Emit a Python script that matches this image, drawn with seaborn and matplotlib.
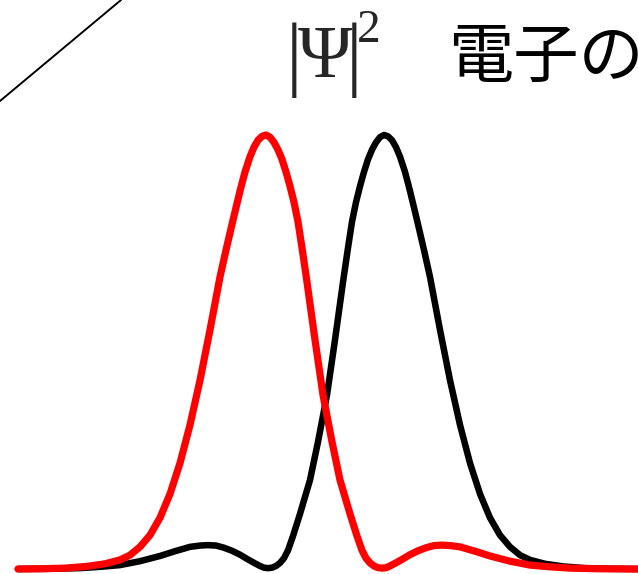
import numpy as np
import pandas as pd
import matplotlib
matplotlib.use('Agg')
import matplotlib.pyplot as plt
from matplotlib.lines import Line2D
import seaborn as sns

# Curve values (x position, height relative to peak)
black_x = [18, 50, 80, 100, 120, 140, 160, 175, 190, 200, 208, 216, 224, 232, 240, 248,
           255, 260, 264, 268, 272, 276, 280, 284, 288, 293, 300, 310, 318, 327, 335, 343,
           348, 352, 356, 360, 364, 368, 372, 376, 380, 384, 388, 392, 396, 400, 405, 410,
           417, 424, 430, 440, 450, 460, 470, 480, 490, 500, 510, 520, 530, 545, 563, 585,
           610, 640, 660]
black_h = [0.0, 0.0005, 0.002, 0.005, 0.009, 0.018, 0.030, 0.041, 0.051, 0.054, 0.055,
           0.054, 0.049, 0.042, 0.033, 0.022, 0.013, 0.007, 0.003, 0.002, 0.003, 0.007,
           0.014, 0.025, 0.043, 0.076, 0.127, 0.205, 0.293, 0.401, 0.528, 0.661, 0.740,
           0.800, 0.845, 0.882, 0.915, 0.944, 0.966, 0.983, 0.995, 1.0, 0.997, 0.988,
           0.972, 0.950, 0.915, 0.871, 0.804, 0.735, 0.673, 0.551, 0.435, 0.332, 0.244,
           0.173, 0.118, 0.078, 0.051, 0.032, 0.021, 0.012, 0.006, 0.002, 0.0005, 0.0, 0.0]

red_x = [18, 40, 65, 87, 105, 120, 130, 140, 150, 160, 170, 180, 190, 200, 210, 220,
         226, 233, 240, 245, 250, 254, 258, 262, 266, 270, 274, 278, 282, 286, 290, 294,
         298, 302, 307, 315, 323, 332, 340, 350, 357, 362, 366, 370, 374, 378, 382, 386,
         390, 395, 402, 410, 418, 426, 434, 442, 450, 460, 475, 490, 510, 530, 550, 570,
         600, 632, 660]
red_h = [0.0, 0.0005, 0.002, 0.006, 0.012, 0.021, 0.032, 0.051, 0.078, 0.118, 0.173,
         0.244, 0.332, 0.435, 0.551, 0.673, 0.735, 0.804, 0.871, 0.915, 0.950, 0.972,
         0.988, 0.997, 1.0, 0.995, 0.983, 0.966, 0.944, 0.915, 0.882, 0.845, 0.800,
         0.740, 0.661, 0.528, 0.401, 0.293, 0.205, 0.127, 0.076, 0.043, 0.025, 0.014,
         0.007, 0.003, 0.002, 0.003, 0.007, 0.013, 0.022, 0.033, 0.042, 0.049, 0.054,
         0.055, 0.054, 0.051, 0.041, 0.030, 0.018, 0.009, 0.005, 0.002, 0.0005, 0.0, 0.0]

sns.set_style("white")
plt.rcParams['font.family'] = ['Noto Sans CJK JP', 'DejaVu Sans']

fig = plt.figure(figsize=(6.38, 5.74), dpi=100)
ax = fig.add_axes([0, 0, 1, 1])

black_df = pd.DataFrame({'x': black_x, 'h': black_h})
red_df = pd.DataFrame({'x': red_x, 'h': red_h})

sns.lineplot(data=black_df, x='x', y='h', color='black', lw=4.7, ax=ax,
             sort=False, solid_capstyle='round', solid_joinstyle='round')
sns.lineplot(data=red_df, x='x', y='h', color='#ff0000', lw=5.2, ax=ax,
             sort=False, solid_capstyle='round', solid_joinstyle='round')

# baseline at 569 px, peak at 135 px
ax.set_xlim(0, 638)
ax.set_ylim(-5 / 434, 569 / 434)
ax.axis('off')

# diagonal line in the top-left corner
fig.add_artist(Line2D([0, 121 / 638], [1 - 101 / 574, 1], color='black', lw=1.4,
                      transform=fig.transFigure))

# |Psi|^2 label
serif = ['Liberation Serif', 'DejaVu Serif']
fig.text(286 / 638, 1 - 80 / 574, '|', family=serif, fontsize=60,
         ha='left', va='baseline')
fig.text(298 / 638, 1 - 77 / 574, 'Ψ', family=serif, fontsize=53,
         ha='left', va='baseline')
fig.text(346 / 638, 1 - 80 / 574, '|', family=serif, fontsize=60,
         ha='left', va='baseline')
fig.text(357 / 638, 1 - 42 / 574, '2', family=serif, fontsize=34,
         ha='left', va='baseline')

fig.text(448 / 638, 1 - 77 / 574, '電子の', fontsize=47,
         ha='left', va='baseline', color='black')

fig.savefig('out.png', dpi=100)
